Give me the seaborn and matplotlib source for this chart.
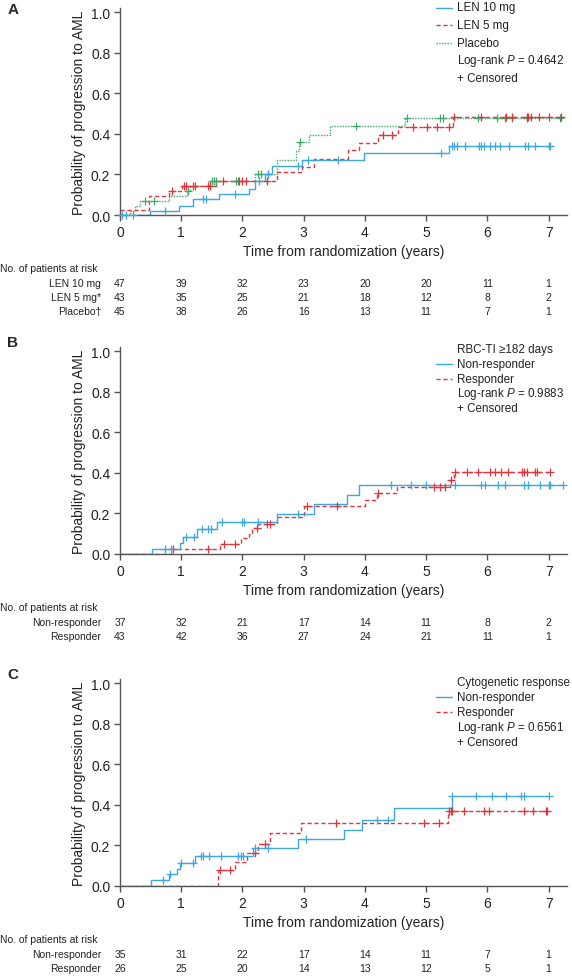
import numpy as np
import matplotlib
matplotlib.use('Agg')
import matplotlib.pyplot as plt
import matplotlib.transforms as mtransforms
from matplotlib.lines import Line2D
import seaborn as sns

sns.set_style('ticks')
plt.rcParams['font.family'] = ['Liberation Sans', 'DejaVu Sans']
plt.rcParams['mathtext.fontset'] = 'custom'
plt.rcParams['mathtext.rm'] = 'Liberation Sans'
plt.rcParams['mathtext.it'] = 'Liberation Sans:italic'

BLUE = '#3ea8dc'
RED = '#e3333b'
GREEN = '#3fab68'

# ============================================
# data
# ============================================
years = [0, 1, 2, 3, 4, 5, 6, 7]

# Panel A
a_len10_t = [0, 0.49, 0.96, 1.20, 1.61, 2.10, 2.21, 2.36, 2.48, 2.97, 3.99, 5.37]
a_len10_p = [0, 0.022, 0.045, 0.078, 0.102, 0.13, 0.167, 0.2, 0.24, 0.273, 0.306, 0.341]
a_len10_c = [0.03, 0.09, 0.22, 0.74, 1.36, 1.40, 1.87, 2.27, 2.42, 2.91, 3.07, 3.56, 5.25,
             5.42, 5.46, 5.50, 5.64, 5.86, 5.90, 5.94, 6.05, 6.13, 6.21, 6.35, 6.62, 6.67,
             6.78, 7.00, 7.03]
a_len5_t = [0, 0.47, 0.80, 1.02, 1.56, 2.56, 2.97, 3.17, 3.72, 3.90, 4.21, 4.54, 5.44]
a_len5_p = [0.023, 0.095, 0.12, 0.143, 0.17, 0.21, 0.237, 0.275, 0.318, 0.355, 0.394, 0.434, 0.485]
a_len5_c = [0.85, 1.04, 1.08, 1.20, 1.23, 1.44, 1.47, 1.69, 1.95, 2.00, 2.05, 2.40, 4.30,
            4.44, 4.78, 5.02, 5.18, 5.38, 5.45, 5.90, 6.30, 6.40, 6.64, 6.67, 6.72, 6.84,
            7.00, 7.20]
a_pla_t = [0, 0.17, 0.25, 0.33, 0.80, 1.10, 1.15, 1.47, 2.20, 2.56, 2.87, 2.92, 3.08, 3.43, 4.66]
a_pla_p = [0, 0.022, 0.045, 0.07, 0.094, 0.12, 0.145, 0.17, 0.2, 0.27, 0.315, 0.36, 0.394,
           0.438, 0.478]
a_pla_c = [0.41, 0.55, 1.11, 1.50, 1.53, 1.56, 1.90, 1.92, 2.25, 2.31, 2.42, 2.94, 3.85,
           4.68, 5.23, 5.28, 5.85, 6.16, 6.29, 6.40, 6.65, 7.19]
a_names = ['LEN 10 mg', 'LEN 5 mg', 'Placebo']
a_risk_labels = ['LEN 10 mg', 'LEN 5 mg*', 'Placebo\u2020']
a_risk_len10 = [47, 39, 32, 23, 20, 20, 11, 1]
a_risk_len5 = [43, 35, 25, 21, 18, 12, 8, 2]
a_risk_pla = [45, 38, 26, 16, 13, 11, 7, 1]

# Panel B
b_non_t = [0, 0.53, 0.98, 1.03, 1.25, 1.59, 2.57, 3.17, 3.71, 3.90]
b_non_p = [0, 0.027, 0.055, 0.082, 0.123, 0.156, 0.197, 0.246, 0.29, 0.34]
b_non_c = [0.74, 0.83, 1.07, 1.21, 1.34, 1.44, 1.49, 1.67, 1.99, 2.03, 2.25, 2.90, 4.43,
           4.75, 4.99, 5.47, 5.90, 5.96, 6.17, 6.29, 6.60, 6.67, 6.86, 7.00, 7.02, 7.24]
b_res_t = [0, 0.83, 1.63, 1.98, 2.10, 2.15, 2.26, 2.57, 3.00, 4.00, 4.19, 4.52, 5.39, 5.45]
b_res_p = [0, 0.023, 0.047, 0.077, 0.10, 0.126, 0.148, 0.18, 0.238, 0.267, 0.30, 0.328,
           0.367, 0.405]
b_res_c = [0.86, 1.43, 1.70, 1.87, 2.23, 2.40, 2.45, 3.06, 3.55, 4.22, 5.13, 5.23, 5.31,
           5.40, 5.47, 5.66, 5.85, 6.04, 6.12, 6.23, 6.34, 6.57, 6.60, 6.64, 6.78, 6.81, 7.02]
b_risk_labels = ['Non-responder', 'Responder']
b_risk_non = [37, 32, 21, 17, 14, 11, 8, 2]
b_risk_res = [43, 42, 36, 27, 24, 21, 11, 1]

# Panel C
c_non_t = [0, 0.50, 0.80, 0.93, 0.98, 1.23, 2.18, 2.91, 3.66, 3.96, 4.48, 5.42]
c_non_p = [0, 0.029, 0.057, 0.086, 0.114, 0.146, 0.186, 0.23, 0.277, 0.325, 0.383, 0.445]
c_non_c = [0.71, 0.82, 0.99, 1.20, 1.32, 1.36, 1.46, 1.65, 1.93, 1.97, 2.01, 2.20, 2.42,
           3.03, 4.19, 4.37, 5.43, 5.81, 6.08, 6.31, 6.55, 6.59, 7.01]
c_res_t = [0, 1.60, 1.87, 2.07, 2.26, 2.45, 2.96, 5.35]
c_res_p = [0, 0.077, 0.118, 0.165, 0.207, 0.26, 0.31, 0.37]
c_res_c = [1.63, 1.80, 2.20, 2.37, 3.52, 4.96, 5.21, 5.37, 5.40, 5.43, 5.61, 5.94, 6.03,
           6.60, 6.75, 6.95, 6.98]
c_risk_non = [35, 31, 22, 17, 14, 11, 7, 1]
c_risk_res = [26, 25, 20, 14, 13, 12, 5, 1]

resp_names = ['Non-responder', 'Responder']
p_values = ['0.4642', '0.9883', '0.6561']
legend_titles = [None, 'RBC-TI \u2265182 days', 'Cytogenetic response']

# ============================================
# layout helpers (pixel geometry)
# ============================================
W, H = 572, 978
fig = plt.figure(figsize=(W / 100, H / 100), dpi=100)

AX_L, AX_R = 120, 567
AX_H = 207
STYLES = {'blue': (BLUE, '-'), 'red': (RED, (0, (3, 2))), 'green': (GREEN, (0, (1, 1)))}


def fx(px):
    return px / W


def fy(py):
    return 1 - py / H


def step_at(t_ev, p_ev, t):
    idx = np.searchsorted(t_ev, t, side='right') - 1
    return np.asarray(p_ev)[idx]


def draw_curve(ax, t_ev, p_ev, cens, style):
    col, ls = STYLES[style]
    x = list(t_ev) + [max(cens)]
    y = list(p_ev) + [p_ev[-1]]
    sns.lineplot(x=x, y=y, drawstyle='steps-post', estimator=None, sort=False,
                 color=col, linestyle=ls, linewidth=1.0, ax=ax)
    sns.scatterplot(x=cens, y=step_at(t_ev, p_ev, cens), marker='+', s=30,
                    color=col, linewidth=0.9, ax=ax, zorder=3, clip_on=False)


def setup_axes(ax):
    ax.set_xlim(0, 7.3)
    ax.set_ylim(0, 1.02)
    ax.set_xticks(years)
    ax.set_yticks([0, 0.2, 0.4, 0.6, 0.8, 1.0])
    ax.set_yticklabels(['0.0', '0.2', '0.4', '0.6', '0.8', '1.0'])
    sns.despine(ax=ax)
    for s in ['left', 'bottom']:
        ax.spines[s].set_color('#555555')
        ax.spines[s].set_linewidth(1.0)
    ax.tick_params(length=4, width=1, color='#555555', labelsize=10, pad=3,
                   labelcolor='#222222')
    ax.set_ylabel('Probability of progression to AML', fontsize=10, color='#222222')
    ax.yaxis.set_label_coords(-0.076, 0.5)
    ax.set_xlabel('Time from randomization (years)', fontsize=10, color='#222222')
    ax.xaxis.set_label_coords(0.5, -29 / AX_H)
    ax.xaxis.label.set_va('top')


def draw_legend(title, entries, pval, y0, dy):
    rows = []
    if title:
        rows.append((title, None))
    rows += entries
    rows.append(('Log-rank $P$ = ' + pval, None))
    rows.append(('+ Censored', None))
    for i, (txt, style) in enumerate(rows):
        y = y0 + i * dy
        fig.text(fx(457), fy(y), txt, fontsize=8.4, ha='left', va='center', color='#222222')
        if style:
            col, ls = STYLES[style]
            fig.add_artist(Line2D([fx(436), fx(452)], [fy(y), fy(y)], color=col,
                                  linestyle=ls, linewidth=1.0))


def draw_risk(ax, labels, rows):
    tr = mtransforms.blended_transform_factory(ax.transData, ax.transAxes)
    ax.text(-120 / 61.2, -53 / AX_H, 'No. of patients at risk', transform=tr,
            fontsize=7.5, ha='left', va='center', color='#222222')
    for i, (lab, vals) in enumerate(zip(labels, rows)):
        y = -(68 + 14 * i) / AX_H
        ax.text(-19 / 61.2, y, lab, transform=tr, fontsize=7.5, ha='right', va='center',
                color='#222222')
        for yr, v in zip(years, vals):
            ax.text(yr, y, str(v), transform=tr, fontsize=7.5, ha='center', va='center',
                    color='#222222')


# ============================================
# panels
# ============================================
bottoms = [216, 555, 887]
axes = [fig.add_axes([fx(AX_L), fy(b), fx(AX_R - AX_L), AX_H / H]) for b in bottoms]

# A
ax = axes[0]
draw_curve(ax, a_pla_t, a_pla_p, a_pla_c, 'green')
draw_curve(ax, a_len5_t, a_len5_p, a_len5_c, 'red')
draw_curve(ax, a_len10_t, a_len10_p, a_len10_c, 'blue')
setup_axes(ax)
draw_legend(legend_titles[0], [(a_names[0], 'blue'), (a_names[1], 'red'), (a_names[2], 'green')],
            p_values[0], 8.5, 17.6)
draw_risk(ax, a_risk_labels, [a_risk_len10, a_risk_len5, a_risk_pla])

# B
ax = axes[1]
draw_curve(ax, b_res_t, b_res_p, b_res_c, 'red')
draw_curve(ax, b_non_t, b_non_p, b_non_c, 'blue')
setup_axes(ax)
draw_legend(legend_titles[1], [(resp_names[0], 'blue'), (resp_names[1], 'red')],
            p_values[1], 350, 14.8)
draw_risk(ax, b_risk_labels, [b_risk_non, b_risk_res])

# C
ax = axes[2]
draw_curve(ax, c_res_t, c_res_p, c_res_c, 'red')
draw_curve(ax, c_non_t, c_non_p, c_non_c, 'blue')
setup_axes(ax)
draw_legend(legend_titles[2], [(resp_names[0], 'blue'), (resp_names[1], 'red')],
            p_values[2], 682.7, 15.15)
draw_risk(ax, b_risk_labels, [c_risk_non, c_risk_res])

# panel letters
for letter, y in zip(['A', 'B', 'C'], [10, 343, 675]):
    fig.text(fx(13), fy(y), letter, fontsize=11, fontweight='bold', ha='center', va='center')

plt.savefig('out.png', dpi=100)
plt.close()
